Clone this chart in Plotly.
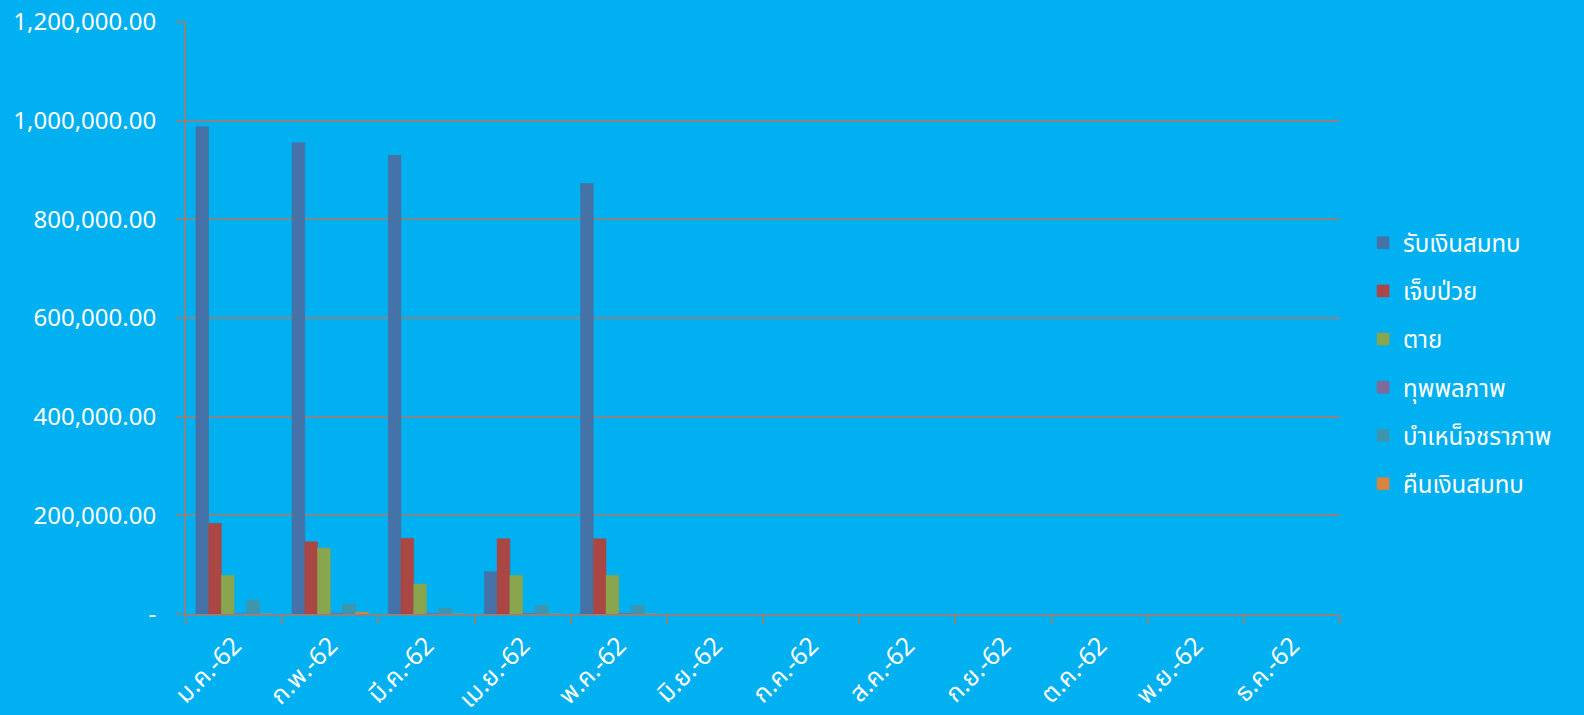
import plotly.graph_objects as go

months = ["ม.ค.-62", "ก.พ.-62", "มี.ค.-62", "เม.ย.-62", "พ.ค.-62", "มิ.ย.-62",
          "ก.ค.-62", "ส.ค.-62", "ก.ย.-62", "ต.ค.-62", "พ.ย.-62", "ธ.ค.-62"]

series_names = ["รับเงินสมทบ", "เจ็บป่วย", "ตาย", "ทุพพลภาพ", "บำเหน็จชราภาพ", "คืนเงินสมทบ"]

receive = [987800, 955400, 929700, 85700, 872400, None, None, None, None, None, None, None]
sick = [183700, 146400, 153300, 152500, 152500, None, None, None, None, None, None, None]
death = [78400, 133700, 60800, 78400, 78400, None, None, None, None, None, None, None]
disability = [0, 1500, 1000, 1500, 1500, None, None, None, None, None, None, None]
pension = [28400, 20300, 12200, 17600, 17600, None, None, None, None, None, None, None]
refund = [0, 3500, 0, 0, 0, None, None, None, None, None, None, None]

series_values = [receive, sick, death, disability, pension, refund]
colors = ["#4572A7", "#AA4643", "#89A54E", "#80699B", "#3D96AE", "#DB843D"]

y_ticks = [0, 200000, 400000, 600000, 800000, 1000000, 1200000]
y_tick_text = ["-", "200,000.00", "400,000.00", "600,000.00", "800,000.00",
               "1,000,000.00", "1,200,000.00"]

fig = go.Figure()
for i, (name, vals, col) in enumerate(zip(series_names, series_values, colors)):
    fig.add_trace(go.Bar(
        x=months, y=vals, name=name,
        marker=dict(color=col, line=dict(color=col, width=0.5)),
        legendgroup=f"g{i}",
    ))

font_family = "Noto Sans, Noto Sans Thai, Liberation Sans, sans-serif"

fig.update_layout(
    width=1584, height=715,
    paper_bgcolor="#00B0F0",
    plot_bgcolor="#00B0F0",
    barmode="group",
    bargap=0.206,
    bargroupgap=0,
    margin=dict(l=186, r=244, t=22, b=101),
    font=dict(family=font_family, color="white", size=22),
    legend=dict(
        x=1.02, xanchor="left", y=0.423, yanchor="middle",
        font=dict(size=24, color="white"),
        traceorder="grouped",
        tracegroupgap=14,
        itemwidth=30,
        bgcolor="rgba(0,0,0,0)",
    ),
    showlegend=True,
)

fig.update_xaxes(
    type="category",
    tickangle=-45,
    showline=True, linecolor="#868686", linewidth=2,
    ticks="outside", ticklen=8, tickcolor="#868686", tickwidth=2,
    tickson="boundaries",
    showgrid=False,
    automargin=False,
    ticklabelstandoff=5,
    tickfont=dict(size=25, color="white"),
)
fig.update_yaxes(
    range=[0, 1200000],
    tickvals=y_ticks, ticktext=y_tick_text,
    showline=True, linecolor="#868686", linewidth=2,
    ticks="outside", ticklen=8, tickcolor="#868686", tickwidth=2,
    showgrid=True, gridcolor="#868686", gridwidth=2,
    zeroline=False,
    automargin=False,
    ticklabelstandoff=15,
    tickfont=dict(size=24, color="white"),
)

fig.write_html(
    "out.html",
    config={"displayModeBar": False},
    post_script="document.body.style.margin='0';document.body.style.background='#00B0F0';",
)
